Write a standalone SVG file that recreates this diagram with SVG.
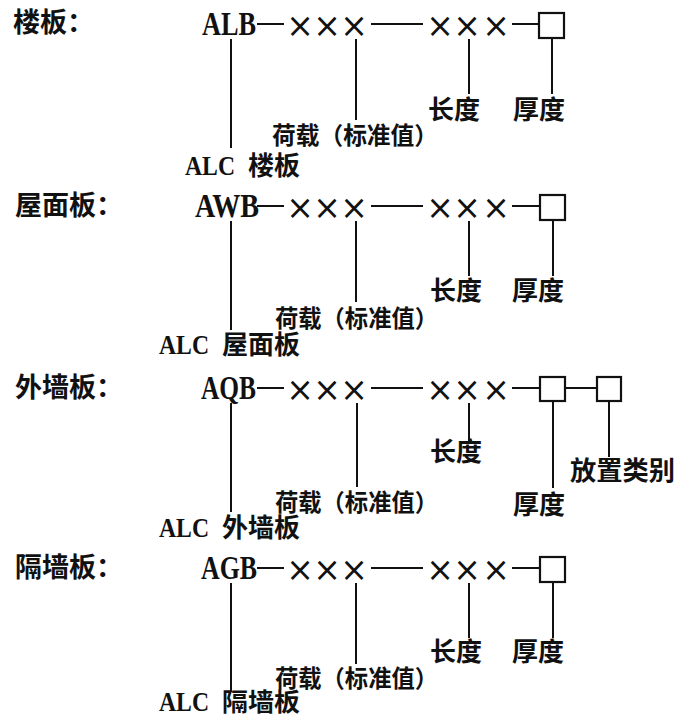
<svg xmlns="http://www.w3.org/2000/svg" width="683" height="719" viewBox="0 0 683 719">
<style>
.cn{font-family:"Noto Sans CJK SC","Noto Sans",sans-serif;font-weight:700;fill:#111}
.lb{font-size:27px}
.an{font-size:26px}
.ld{font-size:24px}
.code{font-family:"Liberation Serif",serif;font-weight:700;font-size:33px;fill:#111}
.alc{font-family:"Liberation Serif",serif;font-weight:700;font-size:28px;fill:#111}
.x{font-family:"DejaVu Sans",sans-serif;font-size:33px;fill:#111;text-anchor:middle}
.ln{stroke:#111;stroke-width:2;fill:none}
.bx{stroke:#111;stroke-width:2.2;fill:#fff}
</style>
<defs>
<g id="chain">
<text class="x" x="300" y="37">×</text>
<text class="x" x="327" y="37">×</text>
<text class="x" x="354" y="37">×</text>
<text class="x" x="440" y="37">×</text>
<text class="x" x="467" y="37">×</text>
<text class="x" x="496" y="37">×</text>
</g>
<g id="links">
<path class="ln" d="M257 24H284M371 24H423M512 24H539"/>
<path class="ln" d="M231 39V148M356 39V120M469 39V94"/>
</g>
</defs>
<rect width="683" height="719" fill="#fff"/>

<g id="row-floor">
<g id="floor-connectors"><use href="#links"/><path class="ln" d="M552 38V94"/></g>
<g id="floor-title"><text class="cn lb" x="13" y="32">楼板：</text></g>
<g id="floor-code"><text class="code" x="202" y="35" textLength="54" lengthAdjust="spacingAndGlyphs">ALB</text><use href="#chain"/></g>
<g id="floor-thick-box"><rect class="bx" x="539" y="13" width="25" height="25"/></g>
<g id="floor-len"><text class="cn an" x="428" y="119">长度</text></g>
<g id="floor-thick"><text class="cn an" x="513" y="119">厚度</text></g>
<g id="floor-load"><text class="cn ld" x="272" y="144" textLength="166" lengthAdjust="spacingAndGlyphs">荷载（标准值）</text></g>
<g id="floor-alc"><text class="alc" x="185" y="175" textLength="50" lengthAdjust="spacingAndGlyphs">ALC</text><text class="cn an" x="248" y="175">楼板</text></g>
</g>

<g id="row-roof" transform="translate(0,182)">
<g id="roof-connectors"><use href="#links"/><path class="ln" d="M553 38V94"/></g>
<g id="roof-title"><text class="cn lb" x="15" y="33">屋面板：</text></g>
<g id="roof-code"><text class="code" x="195" y="35" textLength="64" lengthAdjust="spacingAndGlyphs">AWB</text><use href="#chain"/></g>
<g id="roof-thick-box"><rect class="bx" x="540" y="13" width="25" height="25"/></g>
<g id="roof-len"><text class="cn an" x="430" y="118">长度</text></g>
<g id="roof-thick"><text class="cn an" x="512" y="118">厚度</text></g>
<g id="roof-load"><text class="cn ld" x="275" y="145" textLength="163" lengthAdjust="spacingAndGlyphs">荷载（标准值）</text></g>
<g id="roof-alc"><text class="alc" x="159" y="172" textLength="50" lengthAdjust="spacingAndGlyphs">ALC</text><text class="cn an" x="222" y="172">屋面板</text></g>
</g>

<g id="row-exterior" transform="translate(0,364)">
<g id="ext-connectors">
<path class="ln" d="M257 24H284M371 24H423M512 24H540M565 24H597"/>
<path class="ln" d="M231 39V148M357 39V123M469 39V77M553 37V124M609 37V93"/>
</g>
<g id="ext-title"><text class="cn lb" x="15" y="33">外墙板：</text></g>
<g id="ext-code"><text class="code" x="201" y="35" textLength="55" lengthAdjust="spacingAndGlyphs">AQB</text><use href="#chain"/></g>
<g id="ext-thick-box"><rect class="bx" x="540" y="13" width="25" height="24"/></g>
<g id="ext-place-box"><rect class="bx" x="597" y="13" width="24" height="24"/></g>
<g id="ext-len"><text class="cn an" x="430" y="97">长度</text></g>
<g id="ext-place"><text class="cn an" x="570" y="116" textLength="105" lengthAdjust="spacingAndGlyphs">放置类别</text></g>
<g id="ext-thick"><text class="cn an" x="513" y="150">厚度</text></g>
<g id="ext-load"><text class="cn ld" x="275" y="147" textLength="163" lengthAdjust="spacingAndGlyphs">荷载（标准值）</text></g>
<g id="ext-alc"><text class="alc" x="159" y="173" textLength="50" lengthAdjust="spacingAndGlyphs">ALC</text><text class="cn an" x="222" y="173">外墙板</text></g>
</g>

<g id="row-partition" transform="translate(0,544)">
<g id="part-connectors"><use href="#links"/><path class="ln" d="M553 38V94"/></g>
<g id="part-title"><text class="cn lb" x="15" y="33">隔墙板：</text></g>
<g id="part-code"><text class="code" x="201" y="35" textLength="56" lengthAdjust="spacingAndGlyphs">AGB</text><use href="#chain"/></g>
<g id="part-thick-box"><rect class="bx" x="540" y="13" width="25" height="25"/></g>
<g id="part-len"><text class="cn an" x="430" y="117">长度</text></g>
<g id="part-thick"><text class="cn an" x="512" y="117">厚度</text></g>
<g id="part-load"><text class="cn ld" x="275" y="143" textLength="163" lengthAdjust="spacingAndGlyphs">荷载（标准值）</text></g>
<g id="part-alc"><text class="alc" x="159" y="167" textLength="50" lengthAdjust="spacingAndGlyphs">ALC</text><text class="cn" style="font-size:25px" x="222" y="167" textLength="78" lengthAdjust="spacingAndGlyphs">隔墙板</text></g>
</g>
</svg>
